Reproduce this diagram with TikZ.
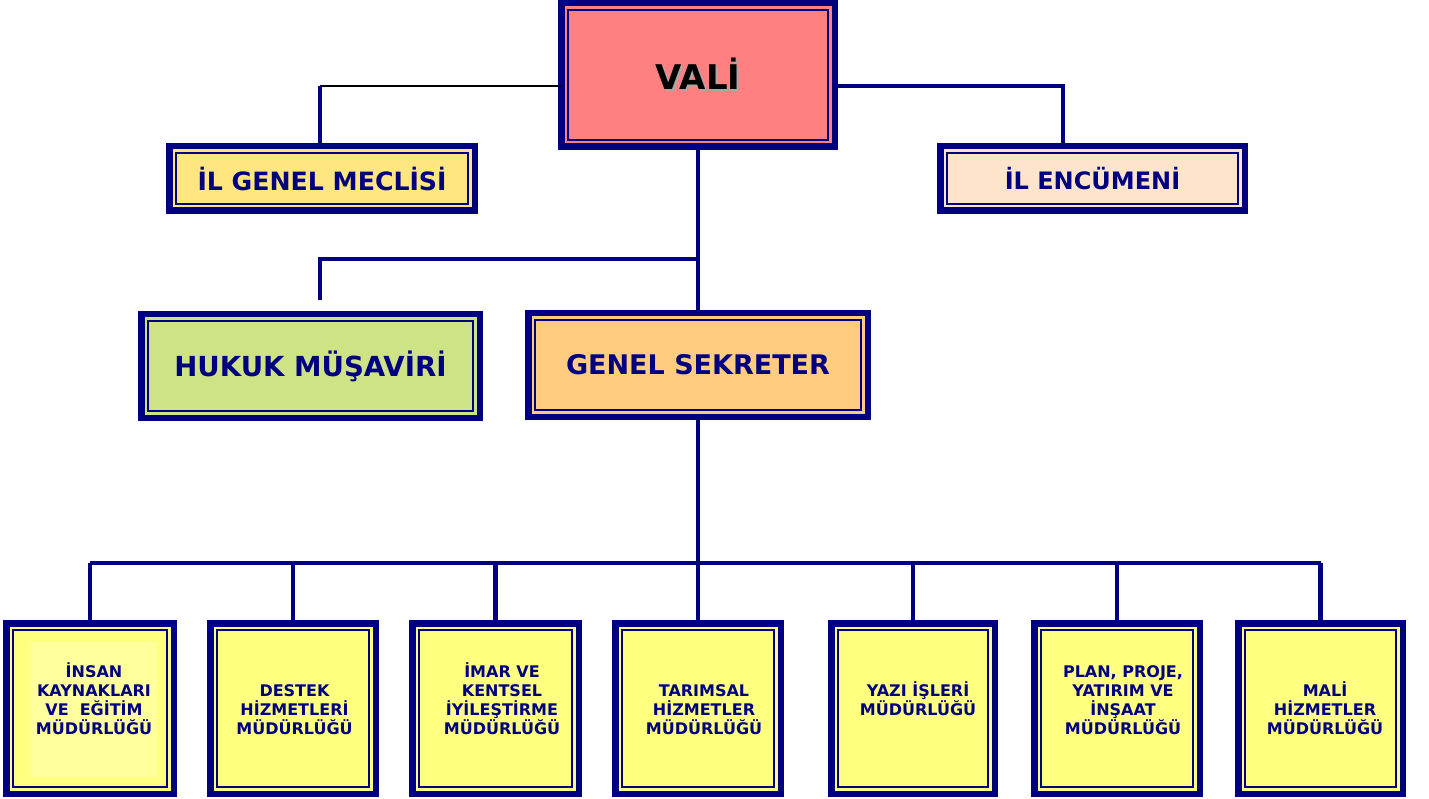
\documentclass[tikz,border=0pt]{standalone}
\usepackage{fontspec}
\setmainfont{DejaVu Sans}
\definecolor{navy}{HTML}{000080}
\definecolor{valifill}{HTML}{FF8080}
\definecolor{meclisfill}{HTML}{FFE680}
\definecolor{encfill}{HTML}{FFE4CC}
\definecolor{hukukfill}{HTML}{CDE385}
\definecolor{gsfill}{HTML}{FFCC80}
\definecolor{mudfill}{HTML}{FFFF80}
\definecolor{mudlight}{HTML}{FFFF9C}
\definecolor{shadowgray}{HTML}{A8A8A8}
\newcommand\stack[1]{\vtop{\baselineskip=19.3pt\lineskiplimit=-20pt\halign{\hfil##\hfil\cr#1\crcr}}}
\begin{document}
\begin{tikzpicture}[x=1pt,y=-1pt,
  orgbox/.style={draw=navy, line width=6.5pt, outer sep=0pt, inner sep=0pt, text=navy, font=\bfseries},
  innerline/.style={draw=navy, line width=1.6pt},
  conn/.style={draw=navy, line width=4.2pt},
  thinconn/.style={draw=black, line width=2pt},
  lab/.style={anchor=base, inner sep=0pt, text=navy, font=\bfseries\fontsize{16}{19.3}\selectfont}]
\useasboundingbox (0,0) rectangle (1429,799);

% ---- boxes ----
\node[orgbox, fill=valifill, minimum width=273.5pt, minimum height=143.5pt, text=black,
      font=\bfseries\fontsize{34}{40}\selectfont] (vali) at (698,75)
  {\makebox[0pt][l]{\hspace{2pt}\raisebox{-2pt}{\color{shadowgray}VALİ}}VALİ};
\node[orgbox, fill=meclisfill, minimum width=305.5pt, minimum height=64.5pt,
      font=\bfseries\fontsize{25.2}{30}\selectfont] (meclis) at (322,178.5) {İL GENEL MECLİSİ};
\node[orgbox, fill=encfill, minimum width=304.5pt, minimum height=64.5pt,
      font=\bfseries\fontsize{24}{28}\selectfont] (encumen) at (1092.5,178.5) {İL ENCÜMENİ};
\node[orgbox, fill=hukukfill, minimum width=338.5pt, minimum height=103.5pt,
      font=\bfseries\fontsize{27.6}{32}\selectfont] (hukuk) at (310.5,366) {HUKUK MÜŞAVİRİ};
\node[orgbox, fill=gsfill, minimum width=339.5pt, minimum height=103.5pt,
      font=\bfseries\fontsize{27}{32}\selectfont] (gs) at (698,365) {GENEL SEKRETER};

\node[orgbox, fill=mudfill, minimum width=167.5pt, minimum height=170.5pt] (b1) at (90,708.5) {};
\node[orgbox, fill=mudfill, minimum width=165.5pt, minimum height=170.5pt] (b2) at (293,708.5) {};
\node[orgbox, fill=mudfill, minimum width=166.5pt, minimum height=170.5pt] (b3) at (495.5,708.5) {};
\node[orgbox, fill=mudfill, minimum width=165.5pt, minimum height=170.5pt] (b4) at (698,708.5) {};
\node[orgbox, fill=mudfill, minimum width=163.5pt, minimum height=170.5pt] (b5) at (913,708.5) {};
\node[orgbox, fill=mudfill, minimum width=165.5pt, minimum height=170.5pt] (b6) at (1117,708.5) {};
\node[orgbox, fill=mudfill, minimum width=164.5pt, minimum height=170.5pt] (b7) at (1320.5,708.5) {};

% lighter panel inside the first box
\fill[mudlight] (30,642) rectangle (157,777);

% inner thin frames
\foreach \n in {vali,meclis,encumen,hukuk,gs,b1,b2,b3,b4,b5,b6,b7}
  \draw[innerline] ([shift={(6.75pt,-6.75pt)}]\n.north west) rectangle ([shift={(-6.75pt,6.75pt)}]\n.south east);

% ---- bottom labels ----
\node[lab] (t1) at (94,677) {\stack{İNSAN\cr KAYNAKLARI\cr VE\ \ EĞİTİM\cr MÜDÜRLÜĞÜ}};
\node[lab] (t2) at (294.5,696) {\stack{DESTEK\cr HİZMETLERİ\cr MÜDÜRLÜĞÜ}};
\node[lab] (t3) at (502,677) {\stack{İMAR VE\cr KENTSEL\cr İYİLEŞTİRME\cr MÜDÜRLÜĞÜ}};
\node[lab] (t4) at (704,696) {\stack{TARIMSAL\cr HİZMETLER\cr MÜDÜRLÜĞÜ}};
\node[lab] (t5) at (918,696) {\stack{YAZI İŞLERİ\cr MÜDÜRLÜĞÜ}};
\node[lab] (t6) at (1123,677) {\stack{PLAN, PROJE,\cr YATIRIM VE\cr İNŞAAT\cr MÜDÜRLÜĞÜ}};
\node[lab] (t7) at (1325,696) {\stack{MALİ\cr HİZMETLER\cr MÜDÜRLÜĞÜ}};

% ---- connectors ----
\coordinate (mt) at (320,86);
\coordinate (et) at (1063,86);
\coordinate (hj) at (698,259);
\coordinate (hd) at (320,300);
\coordinate (bus) at (698,563);

\draw[thinconn] (vali.west |- mt) -- (mt);
\draw[conn] (mt) -- (mt |- meclis.north);
\draw[conn, line width=3.6pt] (vali.east |- et) -- (et) -- (et |- encumen.north);
\draw[conn] (vali.south) -- (gs.north);
\draw[conn] (hj) -- (hj -| hd) -- (hd);
\draw[conn] (gs.south) -- (bus);
\draw[conn] (b1.north |- bus) -- (b7.north |- bus);
\foreach \n in {b1,b2,b3,b4,b5,b6,b7}
  \draw[conn] (\n.north |- bus) -- (\n.north);
\end{tikzpicture}
\end{document}
